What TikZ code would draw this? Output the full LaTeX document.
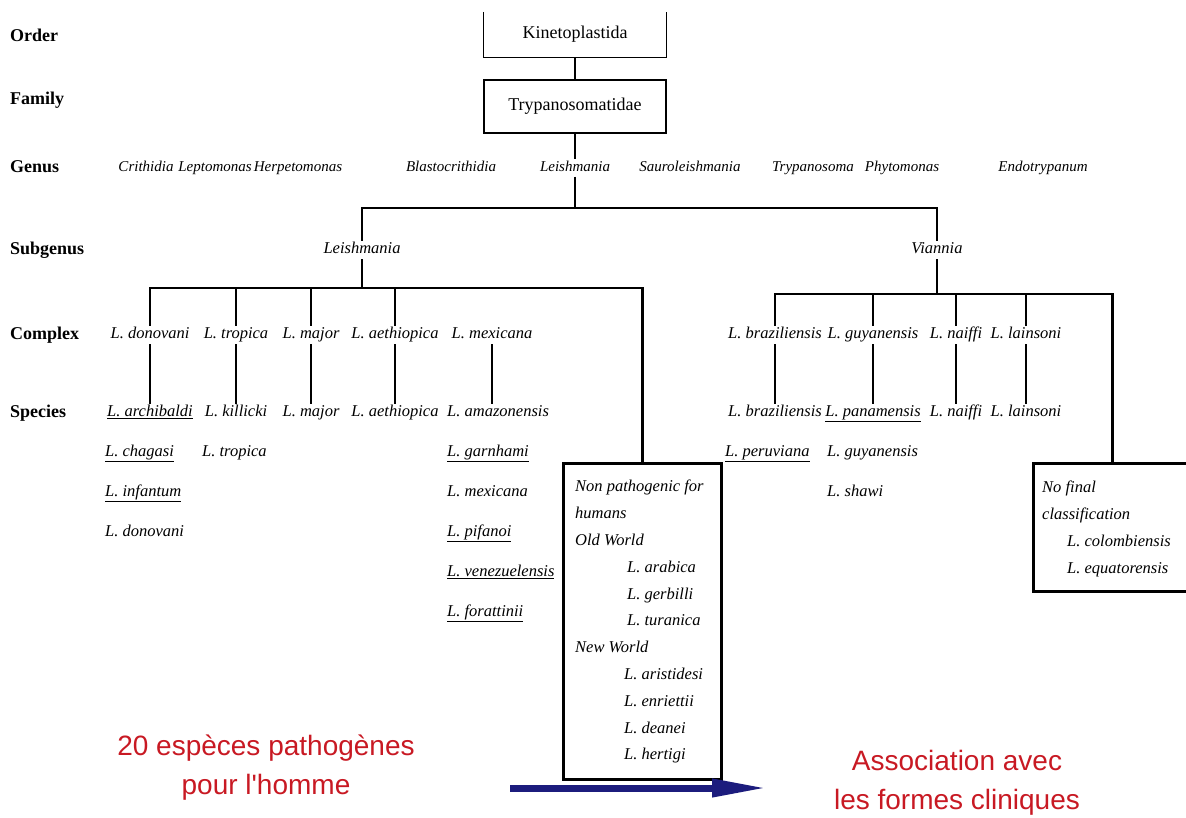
\documentclass[tikz,border=0pt]{standalone}
\usepackage{fontspec}
\setmainfont{Liberation Serif}
\newfontfamily\redfont{Liberation Sans}
\usetikzlibrary{arrows.meta}
\definecolor{redtext}{RGB}{200,25,35}
\definecolor{arrowblue}{RGB}{28,28,125}

\begin{document}
\begin{tikzpicture}[x=1pt,y=-1pt,
    rank/.style={anchor=west,inner sep=0pt,text height=12pt,text depth=4pt,font=\fontsize{18}{20}\selectfont\bfseries},
    genus/.style={inner sep=2pt,text height=10pt,text depth=3pt,font=\fontsize{15}{16}\selectfont\itshape},
    taxon/.style={inner sep=2pt,text height=11pt,text depth=3.5pt,font=\fontsize{16.5}{18}\selectfont\itshape},
    taxonl/.style={taxon,anchor=west},
    topbox/.style={minimum width=182pt,font=\fontsize{18}{20}\selectfont},
    branch/.style={line width=1.2pt},
    heavy/.style={line width=2.6pt},
    groupbox/.style={draw,line width=2.6pt,anchor=north west},
    boxtext/.style={anchor=north west,inner sep=2pt,align=left,font=\fontsize{16.5}{26.8}\selectfont\itshape},
    redlabel/.style={text=redtext,align=center,font=\redfont\fontsize{28}{39}\selectfont}]

  \useasboundingbox (0,0) rectangle (1186,817);
  \clip (0,0) rectangle (1186,817);

  % rank labels
  \node[rank] (lorder) at (10,37) {Order};
  \node[rank] (lfamily) at (10,100) {Family};
  \node[rank] (lgenus) at (10,168) {Genus};
  \node[rank] (lsubgenus) at (10,250) {Subgenus};
  \node[rank] (lcomplex) at (10,335) {Complex};
  \node[rank] (lspecies) at (10,413) {Species};

  % order, family
  \node[topbox,minimum height=45pt] (kin) at (575,34.5) {Kinetoplastida};
  \draw[branch] (kin.north west) -- (kin.south west) -- (kin.south east) -- (kin.north east);
  \node[topbox,draw,line width=1.2pt,minimum height=53pt] (try) at (575,106.5) {Trypanosomatidae};

  % genera
  \node[genus] (gcri) at (146,168) {Crithidia};
  \node[genus] (glep) at (215,168) {Leptomonas};
  \node[genus] (gher) at (298,168) {Herpetomonas};
  \node[genus] (gbla) at (451,168) {Blastocrithidia};
  \node[genus] (glei) at (575,168) {Leishmania};
  \node[genus] (gsau) at (690,168) {Sauroleishmania};
  \node[genus] (gtry) at (813,168) {Trypanosoma};
  \node[genus] (gphy) at (902,168) {Phytomonas};
  \node[genus] (gend) at (1043,168) {Endotrypanum};

  % subgenera
  \node[taxon] (sleish) at (362,250) {Leishmania};
  \node[taxon] (svian) at (937,250) {Viannia};

  \draw[branch] (kin.south) -- (try.north);
  \draw[branch] (try.south) -- (glei.north);
  \coordinate (gbar) at (575,208);
  \draw[branch] (glei.south) -- (gbar);
  \draw[branch] (sleish.north) |- (gbar) -| (svian.north);

  % complexes
  \node[taxon] (cdon) at (150,335) {L. donovani};
  \node[taxon] (ctro) at (236,335) {L. tropica};
  \node[taxon] (cmaj) at (311,335) {L. major};
  \node[taxon] (caet) at (395,335) {L. aethiopica};
  \node[taxon] (cmex) at (492,335) {L. mexicana};
  \node[taxon] (cbra) at (775,335) {L. braziliensis};
  \node[taxon] (cguy) at (873,335) {L. guyanensis};
  \node[taxon] (cnai) at (956,335) {L. naiffi};
  \node[taxon] (clai) at (1026,335) {L. lainsoni};

  % species
  \node[taxon] (sarc) at (150,413) {\underline{L. archibaldi}};
  \node[taxon] (skil) at (236,413) {L. killicki};
  \node[taxon] (smaj) at (311,413) {L. major};
  \node[taxon] (saet) at (395,413) {L. aethiopica};
  \node[taxonl] (sama) at (445,413) {L. amazonensis};
  \node[taxonl] (schag) at (103,453) {\underline{L. chagasi}};
  \node[taxonl] (strop) at (200,453) {L. tropica};
  \node[taxonl] (sinf) at (103,493) {\underline{L. infantum}};
  \node[taxonl] (sdon) at (103,533) {L. donovani};
  \node[taxonl] (sgar) at (445,453) {\underline{L. garnhami}};
  \node[taxonl] (smex) at (445,493) {L. mexicana};
  \node[taxonl] (spif) at (445,533) {\underline{L. pifanoi}};
  \node[taxonl] (sven) at (445,573) {\underline{L. venezuelensis}};
  \node[taxonl] (sfor) at (445,613) {\underline{L. forattinii}};

  \node[taxon] (sbra) at (775,413) {L. braziliensis};
  \node[taxon] (span) at (873,413) {\underline{L. panamensis}};
  \node[taxon] (snai) at (956,413) {L. naiffi};
  \node[taxon] (slai) at (1026,413) {L. lainsoni};
  \node[taxonl] (sper) at (723,453) {\underline{L. peruviana}};
  \node[taxonl] (sguy) at (825,453) {L. guyanensis};
  \node[taxonl] (ssha) at (825,493) {L. shawi};

  % groups without complex
  \node[groupbox,minimum width=158pt,minimum height=316pt] (npbox) at (562,462) {};
  \node[boxtext] (nptext) at ([shift={(11,16)}]npbox.north west)
    {Non pathogenic for\\ humans\\ Old World\\
     \hspace*{52pt}L. arabica\\ \hspace*{52pt}L. gerbilli\\ \hspace*{52pt}L. turanica\\
     New World\\
     \hspace*{49pt}L. aristidesi\\ \hspace*{49pt}L. enriettii\\ \hspace*{49pt}L. deanei\\ \hspace*{49pt}L. hertigi};
  \node[groupbox,minimum width=158pt,minimum height=128pt] (nfbox) at (1032,462) {};
  \node[boxtext] (nftext) at ([shift={(8,17)}]nfbox.north west)
    {No final\\ classification\\ \hspace*{25pt}L. colombiensis\\ \hspace*{25pt}L. equatorensis};

  % Leishmania branches
  \coordinate (lbar) at (362,288);
  \draw[branch] (sleish.south) -- (lbar);
  \draw[branch] (cdon.north) |- (cmex.north |- lbar);
  \draw[branch] (ctro.north) -- (ctro.north |- lbar);
  \draw[branch] (cmaj.north) -- (cmaj.north |- lbar);
  \draw[branch] (caet.north) -- (caet.north |- lbar);
  \draw[heavy] (cmex.north |- lbar) -| (npbox.north);
  \draw[branch] (cdon.south) -- (sarc.north);
  \draw[branch] (ctro.south) -- (ctro.south |- skil.north);
  \draw[branch] (cmaj.south) -- (smaj.north);
  \draw[branch] (caet.south) -- (saet.north);
  \draw[branch] (cmex.south) -- (cmex.south |- sama.north);

  % Viannia branches
  \coordinate (vbar) at (937,294);
  \draw[branch] (svian.south) -- (vbar);
  \draw[branch] (cbra.north) |- (clai.north |- vbar);
  \draw[branch] (cguy.north) -- (cguy.north |- vbar);
  \draw[branch] (cnai.north) -- (cnai.north |- vbar);
  \draw[branch] (clai.north) -- (clai.north |- vbar);
  \draw[heavy] (clai.north |- vbar) -| (nfbox.north);
  \draw[branch] (cbra.south) -- (sbra.north);
  \draw[branch] (cguy.south) -- (span.north);
  \draw[branch] (cnai.south) -- (snai.north);
  \draw[branch] (clai.south) -- (slai.north);

  % bottom
  \node[redlabel] (rleft) at (266,768) {20 espèces pathogènes\\ pour l'homme};
  \node[redlabel] (rright) at (957,783) {Association avec\\ les formes cliniques};
  \coordinate (arrs) at (510,788);
  \coordinate (arre) at (767,788);
  \draw[arrowblue,line width=7pt,-{Triangle[length=55pt,width=17pt]}] (arrs) -- (arre);
\end{tikzpicture}
\end{document}
